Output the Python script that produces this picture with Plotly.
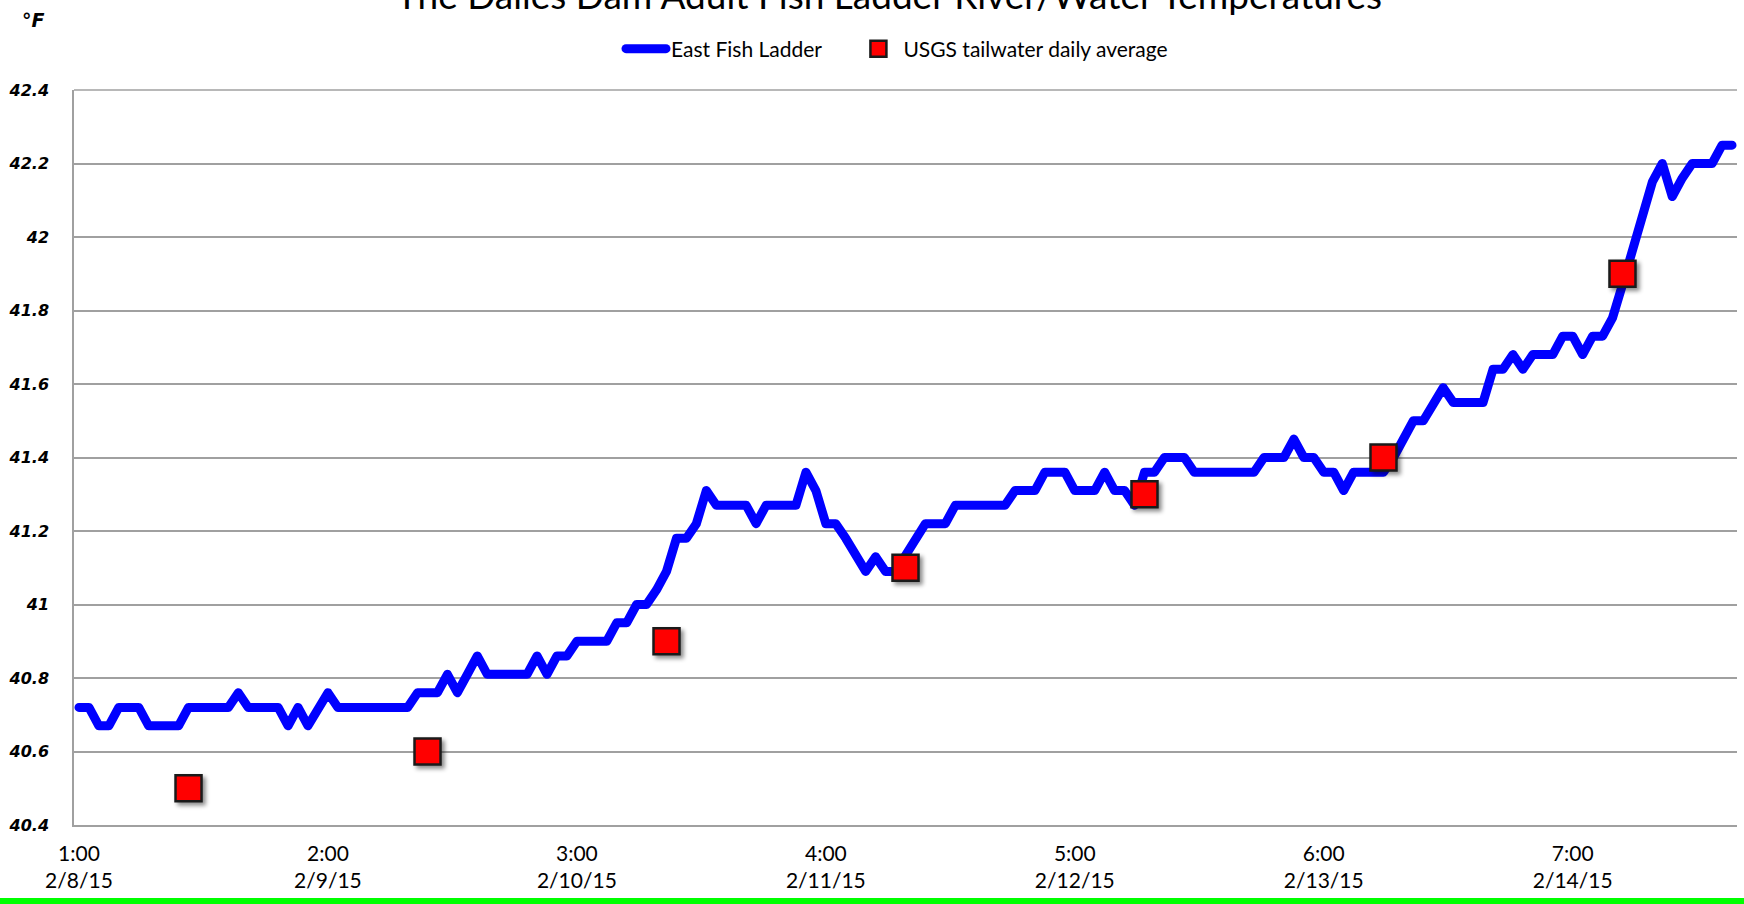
import pandas as pd
import plotly.graph_objects as go

# ---------------- data ----------------
start_time = "2015-02-08 01:00"
n_hours = 167
hour_times = pd.date_range(start_time, periods=n_hours, freq="h")

east_fish_ladder = [
    40.72, 40.72, 40.67, 40.67, 40.72, 40.72, 40.72, 40.67, 40.67, 40.67,
    40.67, 40.72, 40.72, 40.72, 40.72, 40.72, 40.76, 40.72, 40.72, 40.72,
    40.72, 40.67, 40.72, 40.67, 40.72, 40.76, 40.72, 40.72, 40.72, 40.72,
    40.72, 40.72, 40.72, 40.72, 40.76, 40.76, 40.76, 40.81, 40.76, 40.81,
    40.86, 40.81, 40.81, 40.81, 40.81, 40.81, 40.86, 40.81, 40.86, 40.86,
    40.90, 40.90, 40.90, 40.90, 40.95, 40.95, 41.00, 41.00, 41.04, 41.09,
    41.18, 41.18, 41.22, 41.31, 41.27, 41.27, 41.27, 41.27, 41.22, 41.27,
    41.27, 41.27, 41.27, 41.36, 41.31, 41.22, 41.22, 41.18, 41.13, 41.09,
    41.13, 41.09, 41.09, 41.13, 41.18, 41.22, 41.22, 41.22, 41.27, 41.27,
    41.27, 41.27, 41.27, 41.27, 41.31, 41.31, 41.31, 41.36, 41.36, 41.36,
    41.31, 41.31, 41.31, 41.36, 41.31, 41.31, 41.27, 41.36, 41.36, 41.40,
    41.40, 41.40, 41.36, 41.36, 41.36, 41.36, 41.36, 41.36, 41.36, 41.40,
    41.40, 41.40, 41.45, 41.40, 41.40, 41.36, 41.36, 41.31, 41.36, 41.36,
    41.36, 41.36, 41.40, 41.45, 41.50, 41.50, 41.55, 41.59, 41.55, 41.55,
    41.55, 41.55, 41.64, 41.64, 41.68, 41.64, 41.68, 41.68, 41.68, 41.73,
    41.73, 41.68, 41.73, 41.73, 41.78, 41.87, 41.97, 42.06, 42.15, 42.20,
    42.11, 42.16, 42.20, 42.20, 42.20, 42.25, 42.25,
]

usgs_times = [
    "2015-02-08 12:00", "2015-02-09 12:00", "2015-02-10 12:00",
    "2015-02-11 12:00", "2015-02-12 12:00", "2015-02-13 12:00",
    "2015-02-14 12:00",
]
usgs_daily_avg = [40.5, 40.6, 40.9, 41.1, 41.3, 41.4, 41.9]

x_tick_vals = [
    "2015-02-08 01:00", "2015-02-09 02:00", "2015-02-10 03:00",
    "2015-02-11 04:00", "2015-02-12 05:00", "2015-02-13 06:00",
    "2015-02-14 07:00",
]
x_tick_text = [
    "1:00<br>2/8/15", "2:00<br>2/9/15", "3:00<br>2/10/15",
    "4:00<br>2/11/15", "5:00<br>2/12/15", "6:00<br>2/13/15",
    "7:00<br>2/14/15",
]
x_range = ["2015-02-08 00:30", "2015-02-14 23:30"]
y_range = [40.4, 42.4]

title_text = "The Dalles Dam Adult Fish Ladder River/Water Temperatures"
unit_text = "°F"
line_name = "East Fish Ladder"
marker_name = "USGS tailwater daily average"

# ---------------- layout geometry ----------------
W, H = 1744, 904
L, R, T, B = 74, 7, 90, 79
plot_w = W - L - R
plot_h = H - T - B


def px_to_paper_x(px):
    return (px - L) / plot_w


def px_to_paper_y(py):
    return (H - B - py) / plot_h


grid_col = "#a0a0a0"
nbsp = "\u00a0"

fig = go.Figure()
fig.add_trace(go.Scatter(
    x=hour_times, y=east_fish_ladder, mode="lines",
    name=line_name + nbsp * 5,
    line=dict(color="#0000ff", width=9),
))
fig.add_trace(go.Scatter(
    x=usgs_times, y=usgs_daily_avg, mode="markers",
    name=marker_name,
    marker=dict(symbol="square", size=26, color="#ff0000",
                line=dict(color="#1a1a1a", width=2.5)),
))

fig.update_layout(
    width=W, height=H,
    margin=dict(l=L, r=R, t=T, b=B, pad=0),
    paper_bgcolor="white", plot_bgcolor="white",
    font=dict(family="Lato", color="black"),
    showlegend=True,
    legend=dict(
        orientation="h", x=px_to_paper_x(621), y=px_to_paper_y(49),
        xanchor="left", yanchor="middle",
        font=dict(family="Lato", size=21, color="black"),
        bgcolor="rgba(0,0,0,0)", itemwidth=40,
    ),
    xaxis=dict(
        type="date", range=x_range, tickmode="array",
        tickvals=x_tick_vals, ticktext=x_tick_text,
        showgrid=False, zeroline=False,
        showline=True, linecolor=grid_col, linewidth=1.5,
        ticks="", tickfont=dict(family="Lato", size=21, color="black"),
        ticklabelstandoff=9,
    ),
    yaxis=dict(
        range=y_range, dtick=0.2, tick0=40.4,
        showgrid=True, gridcolor=grid_col, gridwidth=1.5,
        zeroline=False, showline=True, linecolor=grid_col, linewidth=1.5,
        ticks="", ticklabelstandoff=20,
        tickfont=dict(family="DejaVu Sans", size=16, color="black",
                      weight="bold", style="italic"),
    ),
    annotations=[
        dict(text=title_text, xref="paper", yref="paper",
             x=px_to_paper_x(889), y=px_to_paper_y(19),
             xanchor="center", yanchor="bottom", showarrow=False,
             font=dict(family="Lato", size=37, color="black")),
        dict(text=unit_text, xref="paper", yref="paper",
             x=px_to_paper_x(33), y=px_to_paper_y(20),
             xanchor="center", yanchor="middle", showarrow=False,
             font=dict(family="DejaVu Sans", size=19, color="black",
                       weight="bold", style="italic")),
    ],
    shapes=[
        dict(type="line", xref="paper", yref="paper",
             x0=px_to_paper_x(-5), x1=px_to_paper_x(W + 5),
             y0=px_to_paper_y(901), y1=px_to_paper_y(901),
             line=dict(color="#00ff00", width=6)),
        dict(type="line", xref="paper", yref="paper",
             x0=0, x1=1, y0=1, y1=1,
             line=dict(color=grid_col, width=1.5), layer="below"),
    ],
)

post = (
    "document.body.style.margin='0';"
    "document.documentElement.style.overflow='hidden';"
    "var s=document.createElement('style');"
    "s.innerHTML='.js-line{stroke-linejoin:round;stroke-linecap:round}"
    " .modebar-container{display:none}"
    " .scatterlayer .trace:last-child .point{filter:drop-shadow(3px 3px 2px rgba(0,0,0,0.45))}';"
    "document.head.appendChild(s);"
)
fig.write_html("out.html", post_script=post,
               config={"displayModeBar": False})
